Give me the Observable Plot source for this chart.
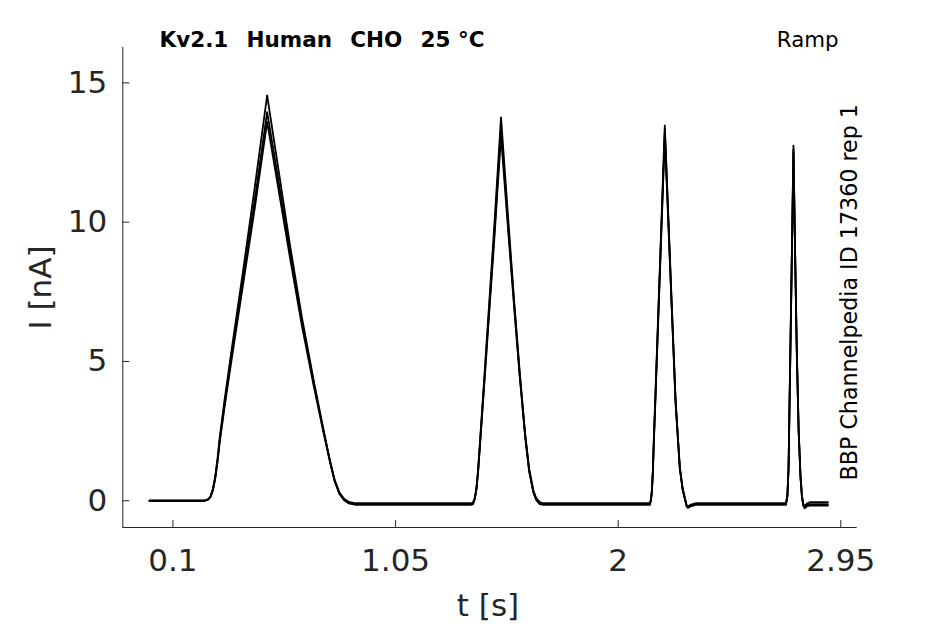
<!DOCTYPE html>
<html>
<head>
<meta charset="utf-8">
<script src="https://cdn.jsdelivr.net/npm/d3@7"></script>
<script src="https://cdn.jsdelivr.net/npm/@observablehq/plot@0.6"></script>
<style>
  html, body { margin: 0; padding: 0; background: #fff; }
  #chart svg { display: block; }
</style>
</head>
<body>
<div id="chart"></div>
<script>
// Time points [s] shared by the sweeps
const time = [
  0, 0.1, 0.2, 0.235,
  0.25, 0.26, 0.27, 0.28, 0.29, 0.30, 0.32, 0.35, 0.40, 0.45, 0.502,
  0.55, 0.60, 0.65, 0.70, 0.74, 0.77, 0.79, 0.81, 0.83, 0.85, 0.88,
  1.0, 1.2, 1.37,
  1.38, 1.388, 1.395, 1.402, 1.41, 1.43, 1.45, 1.47, 1.50,
  1.53, 1.556, 1.58, 1.603, 1.62, 1.638, 1.65, 1.665, 1.68,
  1.8, 2.0, 2.135,
  2.14, 2.144, 2.148, 2.152, 2.16, 2.171, 2.199,
  2.228, 2.245, 2.263, 2.275, 2.284, 2.292, 2.298, 2.31, 2.33,
  2.5, 2.716,
  2.722, 2.727, 2.733, 2.740, 2.748,
  2.755, 2.762, 2.770, 2.778, 2.784, 2.79, 2.796, 2.805, 2.82, 2.895
];
// Current [nA], sweep 1
const sweep1 = [
  0, 0, 0, 0,
  0.05, 0.15, 0.4, 0.85, 1.5, 2.3, 3.6, 5.4, 8.3, 11.3, 14.55,
  11.9, 9.15, 6.6, 4.35, 2.65, 1.45, 0.75, 0.3, 0.07, -0.04, -0.09,
  -0.09, -0.09, -0.09,
  -0.07, 0.1, 0.45, 1.1, 2.1, 4.6, 7.15, 9.7, 13.76,
  10.2, 7.19, 4.6, 2.4, 1.15, 0.37, 0.1, -0.05, -0.09,
  -0.09, -0.09, -0.09,
  0.05, 0.4, 1.1, 2.2, 4.1, 6.75, 13.47,
  7.19, 3.6, 1.21, 0.45, 0.13, -0.15, -0.2, -0.14, -0.09,
  -0.09, -0.09,
  0.2, 1.2, 4.5, 8.3, 12.75,
  9.0, 5.5, 2.6, 0.9, 0.2, -0.12, -0.2, -0.1, -0.05, -0.05
];
// Current [nA], sweep 2
const sweep2 = [
  0, 0, 0, 0,
  0.05, 0.14, 0.38, 0.8, 1.42, 2.2, 3.45, 5.2, 8.0, 10.85, 13.95,
  11.5, 8.9, 6.45, 4.25, 2.6, 1.42, 0.72, 0.27, 0.04, -0.07, -0.12,
  -0.12, -0.12, -0.12,
  -0.1, 0.08, 0.42, 1.05, 2.0, 4.45, 6.95, 9.4, 13.4,
  9.95, 7.05, 4.5, 2.35, 1.1, 0.33, 0.06, -0.09, -0.12,
  -0.12, -0.12, -0.12,
  0.02, 0.37, 1.05, 2.1, 3.95, 6.6, 13.3,
  7.1, 3.55, 1.18, 0.42, 0.1, -0.18, -0.23, -0.17, -0.12,
  -0.12, -0.12,
  0.17, 1.15, 4.4, 8.15, 12.6,
  8.9, 5.45, 2.55, 0.87, 0.17, -0.15, -0.24, -0.15, -0.12, -0.12
];
// Current [nA], sweep 3
const sweep3 = [
  0, 0, 0, 0,
  0.04, 0.13, 0.36, 0.77, 1.38, 2.12, 3.35, 5.05, 7.8, 10.55, 13.6,
  11.2, 8.7, 6.3, 4.15, 2.55, 1.4, 0.7, 0.25, 0.02, -0.09, -0.15,
  -0.15, -0.15, -0.15,
  -0.13, 0.05, 0.4, 1.0, 1.95, 4.35, 6.8, 9.2, 13.1,
  9.75, 6.95, 4.45, 2.3, 1.05, 0.3, 0.03, -0.12, -0.15,
  -0.15, -0.15, -0.15,
  0.0, 0.35, 1.0, 2.05, 3.9, 6.5, 13.1,
  7.0, 3.5, 1.15, 0.4, 0.08, -0.2, -0.26, -0.2, -0.15,
  -0.15, -0.15,
  0.15, 1.1, 4.35, 8.05, 12.5,
  8.8, 5.4, 2.5, 0.85, 0.15, -0.18, -0.27, -0.2, -0.17, -0.17
];
const xTicks = [0.1, 1.05, 2, 2.95];
const yTicks = [0, 5, 10, 15];
const titleText = "Kv2.1\u2002\u00a0Human\u2002\u00a0CHO\u2002\u00a025\u00a0°C";
const protocolText = "Ramp";
const sideText = "BBP Channelpedia ID 17360 rep 1";
const xLabel = "t [s]";
const yLabel = "I [nA]";

const sweeps = [sweep1, sweep2, sweep3];
const rows = sweeps.flatMap((s, k) => time.map((t, i) => ({t, I: s[i], sweep: k})));

const xDomain = [-0.114, 3.02];
const yDomain = [-0.96, 16.27];
const W = 945, H = 624;
const mL = 122.3, mR = 88.3, mT = 47, mB = 97;
const frameW = W - mL - mR, frameH = H - mT - mB;
const axisColor = "#262626";

const chart = Plot.plot({
  width: W,
  height: H,
  marginLeft: mL,
  marginRight: mR,
  marginTop: mT,
  marginBottom: mB,
  style: {fontFamily: "DejaVu Sans", background: "#fff", color: axisColor},
  x: {domain: xDomain},
  y: {domain: yDomain},
  marks: [
    Plot.ruleX([xDomain[0]], {stroke: axisColor, strokeWidth: 1}),
    Plot.ruleY([yDomain[0]], {stroke: axisColor, strokeWidth: 1}),
    Plot.tickX(xTicks, {x: d => d, insetTop: frameH - 7, stroke: axisColor}),
    Plot.tickY(yTicks, {y: d => d, insetRight: frameW - 7, stroke: axisColor}),
    Plot.axisX({ticks: xTicks, tickSize: 0, tickPadding: 21, fontSize: 31, label: null, tickFormat: d => String(d)}),
    Plot.axisY({ticks: yTicks, tickSize: 0, tickPadding: 15.6, fontSize: 31, label: null, tickFormat: d => String(d)}),
    Plot.line(rows, {x: "t", y: "I", z: "sweep", stroke: "#000", strokeWidth: 1.8}),
    Plot.text([titleText], {frameAnchor: "top-left", dx: 159 - mL, dy: -0.3, textAnchor: "start", lineAnchor: "bottom", fontSize: 21.5, fontWeight: "bold", fill: "#000"}),
    Plot.text([protocolText], {frameAnchor: "top-right", dx: -18.7, dy: -1, textAnchor: "end", lineAnchor: "bottom", fontSize: 21.3, fill: "#000"}),
    Plot.text([sideText], {frameAnchor: "bottom-right", dx: -0.7, dy: -47, rotate: -90, textAnchor: "start", lineAnchor: "bottom", fontSize: 22.2, fill: "#000"}),
    Plot.text([xLabel], {frameAnchor: "bottom", dx: -2, dy: 88, textAnchor: "middle", lineAnchor: "bottom", fontSize: 31, fill: axisColor}),
    Plot.text([yLabel], {frameAnchor: "left", dx: 50 - mL, rotate: -90, textAnchor: "middle", lineAnchor: "bottom", fontSize: 31, fill: axisColor})
  ]
});
document.getElementById("chart").appendChild(chart);
</script>
</body>
</html>
